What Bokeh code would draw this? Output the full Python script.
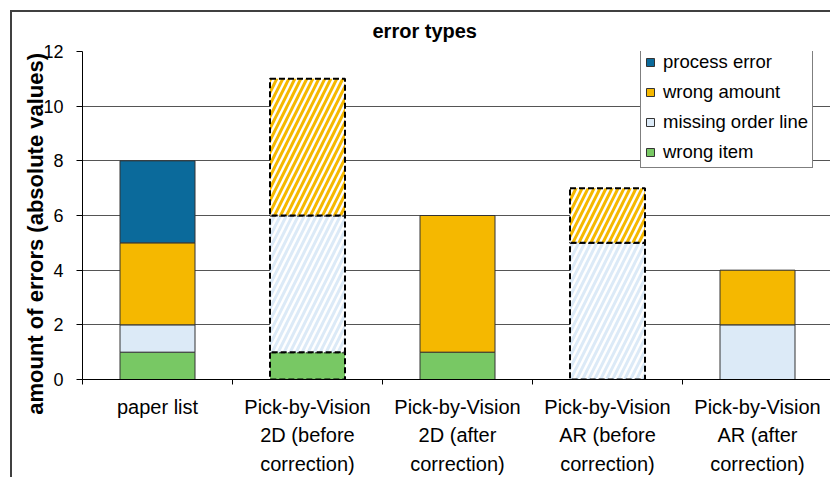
import numpy as np
from bokeh.plotting import figure
from bokeh.models import ColumnDataSource, Range1d, FixedTicker, Legend, LegendItem
from bokeh.embed import file_html
from bokeh.resources import INLINE

# ---- data -------------------------------------------------------------
categories = [
    "paper list",
    "Pick-by-Vision\n2D (before\ncorrection)",
    "Pick-by-Vision\n2D (after\ncorrection)",
    "Pick-by-Vision\nAR (before\ncorrection)",
    "Pick-by-Vision\nAR (after\ncorrection)",
]
series = ["wrong item", "missing order line", "wrong amount", "process error"]
wrong_item = [1, 1, 1, 0, 0]
missing_order_line = [1, 5, 0, 5, 2]
wrong_amount = [3, 5, 5, 2, 2]
process_error = [3, 0, 0, 0, 0]
before_correction = [False, True, False, True, False]
hatched_series = ["missing order line", "wrong amount"]
colors = ["#78C864", "#DCEAF7", "#F5B800", "#0B6A9B"]
legend_order = ["process error", "wrong amount", "missing order line", "wrong item"]
y_ticks = [0, 2, 4, 6, 8, 10, 12]
title_text = "error types"
y_label_text = "amount of errors (absolute values)"

FONT = "Liberation Sans"

values = [wrong_item, missing_order_line, wrong_amount, process_error]
xpos = np.arange(len(categories)) + 1.0

W, H = 830, 477
LEFT, TOP, BOTTOM = 82, 51, 95
frame_w = W - LEFT

p = figure(width=W, height=H, output_backend="svg", toolbar_location=None,
           x_range=Range1d(0.5, 0.5 + frame_w / 150), y_range=Range1d(0, 12),
           min_border_left=LEFT, min_border_right=0, min_border_top=TOP,
           min_border_bottom=BOTTOM)
p.outline_line_color = None
p.background_fill_color = "white"
p.border_fill_alpha = 0
# outer chart frame (left and top edges) drawn as page background lines
p.styles = {
    "background": ("linear-gradient(#404040, #404040) 10px 10px / 2px 100% no-repeat, "
                   "linear-gradient(#404040, #404040) 10px 10px / 100% 2px no-repeat, white")
}

bottoms = np.zeros(len(categories))
normal_renderers = {}
for name, vals, col in zip(series, values, colors):
    vals = np.array(vals, dtype=float)
    tops = bottoms + vals
    groups = {"normal": [], "dashed": [], "hatched": []}
    for i in range(len(categories)):
        if vals[i] <= 0:
            continue
        if before_correction[i]:
            key = "hatched" if name in hatched_series else "dashed"
        else:
            key = "normal"
        groups[key].append(i)
    for key, idx in groups.items():
        if key != "normal" and not idx:
            continue
        src = ColumnDataSource(dict(x=xpos[idx], bottom=bottoms[idx], top=tops[idx]))
        if key == "normal":
            r = p.vbar(x="x", bottom="bottom", top="top", width=0.5, source=src,
                       fill_color=col, line_color="#333333", line_width=1)
            normal_renderers[name] = r
        elif key == "dashed":
            p.vbar(x="x", bottom="bottom", top="top", width=0.5, source=src,
                   fill_color=col, line_color="black", line_width=2, line_dash="6 3")
        else:
            p.vbar(x="x", bottom="bottom", top="top", width=0.5, source=src,
                   fill_color="white", hatch_pattern="/", hatch_color=col,
                   hatch_scale=12, hatch_weight=3,
                   line_color="black", line_width=2, line_dash="6 3")
    bottoms = tops

# ---- axes -------------------------------------------------------------
p.xgrid.grid_line_color = None
p.ygrid.ticker = FixedTicker(ticks=y_ticks)
p.ygrid.grid_line_color = "#555555"
p.ygrid.grid_line_width = 1

p.yaxis.ticker = FixedTicker(ticks=y_ticks)
p.yaxis.axis_line_color = "black"
p.yaxis.major_tick_line_color = "black"
p.yaxis.major_tick_out = 6
p.yaxis.major_tick_in = 0
p.yaxis.minor_tick_line_color = None
p.yaxis.major_label_standoff = 13
p.yaxis.major_label_text_font = FONT
p.yaxis.major_label_text_font_size = "18px"
p.yaxis.major_label_text_color = "black"
p.yaxis.axis_label = y_label_text + "\u00a0" * 6
p.yaxis.axis_label_text_font = FONT
p.yaxis.axis_label_text_font_size = "22px"
p.yaxis.axis_label_text_font_style = "bold"
p.yaxis.axis_label_text_color = "black"
p.yaxis.axis_label_standoff = -8

p.xaxis.ticker = FixedTicker(ticks=list(xpos),
                             minor_ticks=list(np.arange(len(categories) + 1) + 0.5))
p.xaxis.major_label_overrides = {int(x): c for x, c in zip(xpos, categories)}
p.xaxis.major_tick_line_color = None
p.xaxis.minor_tick_line_color = "black"
p.xaxis.minor_tick_out = 5
p.xaxis.minor_tick_in = 0
p.xaxis.axis_line_color = "black"
p.xaxis.major_label_standoff = 10
p.xaxis.major_label_text_font = FONT
p.xaxis.major_label_text_font_size = "20px"
p.xaxis.major_label_text_line_height = 1.3
p.xaxis.major_label_text_color = "black"

# ---- title ------------------------------------------------------------
p.title.text = title_text
p.title.align = "left"
p.title.offset = 290
p.title.text_font = FONT
p.title.text_font_size = "20px"
p.title.text_font_style = "bold"
p.title.text_color = "black"
p.title.standoff = 20

# ---- legend -----------------------------------------------------------
items = [LegendItem(label=n, renderers=[normal_renderers[n]]) for n in legend_order]
legend = Legend(items=items, location=(558, 211))
legend.label_text_font = FONT
legend.label_text_font_size = "18.5px"
legend.label_text_color = "black"
legend.glyph_width = 10
legend.glyph_height = 10
legend.label_standoff = 8
legend.label_height = 21
legend.spacing = 8
legend.padding = 4
legend.margin = 0
legend.border_line_color = "black"
legend.border_line_width = 1
legend.background_fill_alpha = 1
p.add_layout(legend)

open("out.html", "w").write(file_html(p, INLINE))
